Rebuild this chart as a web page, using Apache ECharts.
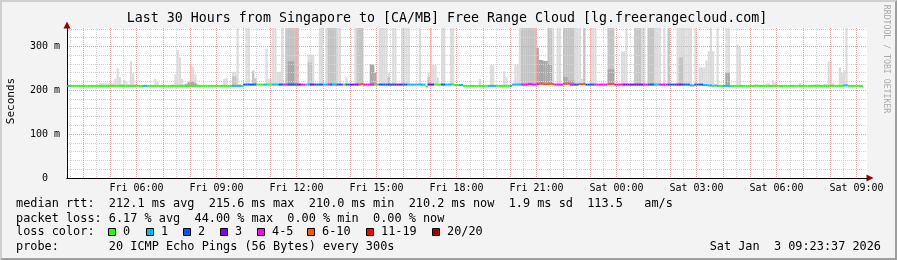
<!DOCTYPE html>
<html><head><meta charset="utf-8">
<script src="https://cdn.jsdelivr.net/npm/echarts@6/dist/echarts.min.js"></script>
<style>
html,body{margin:0;padding:0;background:#f3f3f3;}
#c{position:absolute;left:0;top:0;width:897px;height:260px;}
#frame{position:absolute;left:0;top:0;width:897px;height:260px;box-sizing:border-box;border-top:2px solid #cfcfcf;border-left:2px solid #cfcfcf;border-right:2px solid #9e9e9e;border-bottom:2px solid #9e9e9e;pointer-events:none;}
</style></head><body>
<div id="c"></div><div id="frame"></div>
<script>
const _ = null;
// time axis in hours since Fri 00:00
const X_MIN = 3 + 23/60 + 37/3600;   // Fri 03:23:37
const X_MAX = X_MIN + 30;            // Sat 09:23:37
const FIRST_BIN = 3 + 20/60;         // first 5-minute bin starts Fri 03:20
const STEP = 5/60;                   // 300 s step
const Y_MAX = 342;
const xLabelHours = [6, 9, 12, 15, 18, 21, 24, 27, 30, 33];
const yLabelValues = [0, 100, 200, 300];
const lossLegend = ['0', '1', '2', '3', '4-5', '6-10', '11-19', '20/20'];
const lossColors = ['#26ff00', '#00b8ff', '#0059ff', '#7e00ff', '#ff00ff', '#ff5500', '#ff0000', '#a10000'];

// median rtt (ms), one value per 5-minute bin
const median = [
210,210,210,210,210,210,210,210,210,210,210,210,
210,210,210,210,210,210,210,210,210,210,210,210,
210,210,210,210,210,210,210,210,210,210,210,210,
210,210,210,210,210,210,210,210,210,210,210,210,
210,210,210,210,210,210,210,210,210,210,210,210,
210,210,210,210,210,210,210,210,210,210,210,210,
210,210,210,210,210,210,210,210,213,213,213,213,
213,213,213,213,213,213,213,213,213,213,213,213,
213,213,213,213,213,213,213,213,213,213,213,213,
213,213,213,213,213,213,213,213,213,213,213,213,
213,213,213,213,213,213,213,213,213,213,213,213,
213,214,213,213,213,213,213,213,213,213,213,213,
213,213,213,213,213,213,213,213,213,213,213,213,
213,213,213,213,213,213,209,213,213,213,213,213,
213,213,213,213,213,213,213,212,212,212,212,210,
210,210,210,210,210,210,210,210,210,210,210,210,
210,210,210,210,210,210,210,210,210,213,213,213,
213,213,213,213,214,214,213,213,214,215,215,214,
214,214,215,214,213,213,213,213,215,215,215,213,
213,213,213,214,214,214,213,213,213,213,213,213,
213,213,213,213,214,214,214,213,213,213,213,213,
213,213,213,213,213,213,213,213,213,213,213,213,
213,213,213,213,213,213,213,213,213,213,213,213,
213,213,213,213,213,211,211,213,213,213,213,212,
212,211,211,210,211,210,210,210,210,210,210,210,
210,210,210,210,210,210,210,210,210,210,210,210,
210,210,210,210,210,210,210,210,210,210,210,210,
210,210,210,210,210,210,210,210,210,210,210,210,
210,210,210,210,210,210,210,210,210,210,210,210,
210,210,211,211,210,210,210,210,210,210,210
];
// lost pings out of 20, per bin
const loss = [
1,1,0,0,0,0,0,0,0,0,0,0,
0,0,0,0,0,0,0,0,0,0,0,0,
0,0,0,0,0,0,0,0,0,0,0,1,
1,0,0,0,0,0,0,0,0,0,0,0,
0,0,0,0,0,0,0,0,0,0,0,0,
0,0,0,0,0,0,0,0,0,0,0,0,
0,0,0,1,1,1,1,0,2,2,2,2,
2,2,0,0,0,1,1,0,0,1,1,1,
2,2,4,5,2,2,2,2,3,3,4,5,
1,1,3,3,2,2,2,2,1,1,4,2,
1,1,2,2,4,0,2,2,3,3,3,3,
7,6,4,5,4,4,5,0,1,2,2,2,
2,3,2,2,3,3,3,2,2,2,1,1,
1,1,1,1,1,1,0,3,3,3,0,0,
0,2,2,1,1,1,0,0,0,1,1,0,
0,0,0,0,0,0,0,0,0,0,1,1,
1,1,0,0,0,0,0,0,1,1,1,1,
1,4,5,4,4,5,4,4,5,7,8,7,
7,6,7,6,4,5,4,4,8,9,7,4,
5,2,2,6,7,6,2,2,2,2,4,5,
4,4,5,4,7,6,7,4,5,4,4,3,
3,3,3,3,3,3,3,3,4,5,2,2,
2,1,1,4,4,5,4,2,2,2,3,3,
3,2,2,2,2,1,1,2,2,2,2,1,
1,1,1,0,1,1,0,0,1,1,1,0,
0,0,0,0,0,0,0,0,0,0,0,0,
0,0,0,0,0,0,0,0,0,0,0,0,
0,0,0,0,0,0,0,0,0,0,0,0,
0,0,0,0,0,0,0,0,0,0,0,0,
0,0,1,1,0,0,0,0,0,0,0
];
// smoke: highest ping (light), upper ping band (medium), lower band (dark), ms
const smokeMax = [
_,_,_,_,_,_,_,_,_,_,_,_,
_,_,_,216,216,216,216,216,216,216,226,251,
230,215,224,218,214,266,240,214,_,_,_,_,
_,_,_,_,226,219,_,_,_,_,_,_,
214,236,292,275,226,214,216,222,258,253,236,214,
_,_,_,_,_,_,_,_,_,_,_,226,
228,_,_,242,242,350,214,_,_,350,350,214,
246,229,_,_,_,_,295,226,226,350,350,242,
242,350,216,350,350,350,350,350,350,216,_,_,
_,281,281,281,216,_,350,350,_,350,350,350,
350,350,350,350,214,_,230,_,_,_,350,350,
350,350,_,_,_,259,259,240,_,350,350,350,
350,240,_,350,350,_,_,350,350,350,350,_,
_,_,_,350,_,_,_,240,350,258,258,230,
_,350,350,_,_,350,350,_,_,_,_,_,
_,_,_,_,_,_,226,_,_,_,_,257,
257,_,_,_,_,243,230,_,_,_,259,259,
350,350,350,350,350,350,350,350,297,269,269,267,
267,350,350,350,_,350,350,_,350,350,350,350,
350,350,350,350,226,350,_,_,350,350,350,_,
_,_,_,_,350,350,350,_,_,_,289,289,
350,_,_,_,350,350,350,350,350,_,350,350,
350,350,350,350,_,350,_,350,_,_,_,350,
350,350,350,350,350,350,_,350,_,252,252,252,
268,289,350,289,_,350,_,_,_,350,350,_,
_,_,304,300,_,_,_,_,_,_,214,214,
_,_,_,216,216,_,223,218,_,_,_,_,
_,_,_,_,_,_,216,_,_,_,_,_,
_,214,214,_,_,215,215,266,266,216,_,_,
252,240,244,350,_,_,_,_,_,_,_
];
const smokeMid = [
_,_,_,_,_,_,_,_,_,_,_,_,
_,_,_,_,_,_,_,_,_,_,_,_,
_,_,_,_,_,_,_,_,_,_,_,_,
_,_,_,_,_,_,_,_,_,_,_,_,
_,_,_,_,_,_,_,_,_,_,_,_,
_,_,_,_,_,_,_,_,_,_,_,_,
_,_,_,232,232,_,_,_,_,_,_,_,
243,226,_,_,_,_,_,_,_,_,_,_,
_,_,_,350,350,350,350,350,350,_,_,_,
_,264,264,_,_,_,_,_,_,_,350,350,
350,350,_,_,_,_,_,_,_,_,_,350,
350,350,_,_,_,_,_,_,_,_,_,_,
_,230,_,_,_,_,_,_,_,_,_,_,
_,_,_,_,_,_,_,230,_,_,_,_,
_,_,_,_,_,_,_,_,_,_,_,_,
_,_,_,_,_,_,_,_,_,_,_,_,
_,_,_,_,_,_,_,_,_,_,_,_,
_,350,350,350,350,350,350,350,_,_,_,_,
_,350,350,_,_,_,_,_,350,350,350,350,
350,_,_,_,_,350,_,_,_,_,_,_,
_,_,_,_,350,350,350,_,_,_,_,_,
_,_,_,_,350,350,350,_,_,_,350,350,
350,_,_,_,_,_,_,350,_,_,_,_,
275,275,_,_,_,_,_,_,_,_,_,_,
_,_,_,_,_,_,_,_,_,_,_,_,
_,_,_,_,_,_,_,_,_,_,_,_,
_,_,_,_,_,_,_,_,_,_,_,_,
_,_,_,_,_,_,_,_,_,_,_,_,
_,_,_,_,_,_,_,_,_,_,_,_,
_,_,_,_,_,_,_,_,_,_,_
];
const smokeDark = [
_,_,_,_,_,_,_,_,_,_,_,_,
_,_,_,_,_,_,_,_,_,_,_,_,
_,_,_,_,_,_,_,_,_,_,_,_,
_,_,_,_,_,_,_,_,_,_,_,_,
_,_,_,_,_,_,214,218,219,220,216,_,
_,_,_,_,_,_,_,_,_,_,_,_,
_,_,_,_,_,_,_,_,_,_,_,_,
_,_,_,_,_,_,_,_,_,_,_,_,
_,_,_,_,266,266,266,_,_,_,_,_,
_,_,_,_,_,_,_,_,_,_,_,_,
_,_,_,_,_,_,_,_,_,_,_,_,
_,_,_,_,_,259,259,240,_,_,_,_,
_,_,_,_,_,_,_,_,_,_,_,_,
_,_,_,_,_,_,_,_,_,_,_,_,
_,_,_,_,_,_,_,_,_,_,_,_,
_,_,_,_,_,_,_,_,_,_,_,_,
_,_,_,_,_,_,_,_,_,_,_,_,
_,_,_,_,_,_,_,_,297,269,269,267,
267,260,260,_,_,_,_,_,230,230,222,222,
222,_,_,_,_,_,_,_,_,_,_,_,
_,_,_,_,248,248,248,_,_,_,_,_,
_,_,_,_,_,_,_,_,_,_,_,_,
_,_,_,_,_,_,_,_,_,_,_,_,
_,_,_,_,_,_,_,_,_,_,_,_,
_,_,_,_,_,_,_,_,_,240,240,_,
_,_,_,_,_,_,_,_,_,_,_,_,
_,_,_,_,_,_,_,_,_,_,_,_,
_,_,_,_,_,_,_,_,_,_,_,_,
_,_,_,_,_,_,_,_,_,_,_,_,
_,_,_,_,_,_,_,_,_,_,_
];

const FONT = '"DejaVu Sans Mono", monospace';
function binStart(i){ return FIRST_BIN + i*STEP; }
function lossColor(n){
  if (n <= 0) return lossColors[0];
  if (n === 1) return lossColors[1];
  if (n === 2) return lossColors[2];
  if (n === 3) return lossColors[3];
  if (n <= 5) return lossColors[4];
  if (n <= 10) return lossColors[5];
  if (n <= 19) return lossColors[6];
  return lossColors[7];
}
function smokeData(arr){
  const out = [];
  arr.forEach((v, i) => { if (v != null) out.push([binStart(i), binStart(i+1), median[i]-1.5, v]); });
  return out;
}
const medData = median.map((m, i) => [binStart(i), binStart(i+1), m, loss[i]]);

function clip(r, cs){
  return echarts.graphic.clipRectByRect(r, {x: cs.x, y: cs.y, width: cs.width, height: cs.height});
}
function smokeItem(params, api){
  const a = api.coord([api.value(0), api.value(3)]);
  const b = api.coord([api.value(1), api.value(2)]);
  const shape = clip({x: a[0], y: a[1], width: b[0]-a[0], height: b[1]-a[1]}, params.coordSys);
  return shape && {type: 'rect', shape, style: {fill: api.visual('color')}};
}
function medItem(params, api){
  const a = api.coord([api.value(0), api.value(2)]);
  const b = api.coord([api.value(1), api.value(2)]);
  const shape = clip({x: a[0], y: a[1]-1, width: b[0]-a[0], height: 2}, params.coordSys);
  return shape && {type: 'rect', shape, style: {fill: lossColor(api.value(3))}};
}

const minorX = [], majorX = [], minorY = [], majorY = [100, 200, 300];
for (let h = 3.5; h <= 33.01; h += 0.5) minorX.push(h);
for (let h = 4; h <= 33; h += 1) majorX.push(h);
for (let v = 20; v <= 340; v += 20) minorY.push(v);

function xFmt(v){
  const day = v < 24 ? 'Fri' : 'Sat';
  const h = Math.round(v) % 24;
  return day + ' ' + (h < 10 ? '0' : '') + h + ':00';
}

const legendBoxX = [108, 146, 183, 220, 257, 307, 366, 432];
const LF = '11.86px ' + FONT;
const graphics = [
  {type:'text', x:447, y:19, style:{text:'Last 30 Hours from Singapore to [CA/MB] Free Range Cloud [lg.freerangecloud.com]', font:'13.3px '+FONT, fill:'#000', textAlign:'center', textVerticalAlign:'middle'}},
  {type:'text', x:11, y:101, rotation:Math.PI/2, style:{text:'Seconds', font:'11px '+FONT, fill:'#000', textAlign:'center', textVerticalAlign:'middle'}},
  {type:'text', x:886, y:59, rotation:-Math.PI/2, style:{text:'RRDTOOL / TOBI OETIKER', font:'8.2px '+FONT, fill:'#aaaaaa', textAlign:'center', textVerticalAlign:'middle'}},
  {type:'text', x:16, y:204, style:{text:'median rtt:  212.1 ms avg  215.6 ms max  210.0 ms min  210.2 ms now  1.9 ms sd  113.5   am/s', font:LF, fill:'#000', textVerticalAlign:'middle'}},
  {type:'text', x:16, y:218.5, style:{text:'packet loss: 6.17 % avg  44.00 % max  0.00 % min  0.00 % now', font:LF, fill:'#000', textVerticalAlign:'middle'}},
  {type:'text', x:16, y:232, style:{text:'loss color:', font:LF, fill:'#000', textVerticalAlign:'middle'}},
  {type:'text', x:16, y:247, style:{text:'probe:       20 ICMP Echo Pings (56 Bytes) every 300s', font:LF, fill:'#000', textVerticalAlign:'middle'}},
  {type:'text', x:881, y:247, style:{text:'Sat Jan  3 09:23:37 2026', font:LF, fill:'#000', textAlign:'right', textVerticalAlign:'middle'}}
];
lossLegend.forEach((lab, k) => {
  graphics.push({type:'rect', shape:{x:legendBoxX[k]+0.5, y:228.5, width:7, height:7}, style:{fill:lossColors[k], stroke:'#000', lineWidth:1}});
  graphics.push({type:'text', x:legendBoxX[k]+15, y:232, style:{text:lab, font:LF, fill:'#000', textVerticalAlign:'middle'}});
});

const chart = echarts.init(document.getElementById('c'), null, {renderer:'canvas'});
chart.setOption({
  animation: false,
  backgroundColor: '#f3f3f3',
  grid: {left:67, right:30, top:28, bottom:82, show:true, backgroundColor:'#ffffff', borderWidth:0},
  xAxis: [
    {type:'value', min:X_MIN, max:X_MAX, position:'bottom', z:4,
     axisLine:{show:true, lineStyle:{color:'#990000', width:1}, symbol:['none','triangle'], symbolSize:[7,7], symbolOffset:[0,3]},
     axisTick:{show:false, customValues:minorX}, axisLabel:{show:false},
     splitLine:{show:true, lineStyle:{color:'#d4d4d4', width:1, type:[1,1]}}},
    {type:'value', min:X_MIN, max:X_MAX, position:'bottom', z:5,
     axisLine:{show:true, lineStyle:{color:'#000000', width:1}},
     axisTick:{show:false, customValues:majorX},
     axisLabel:{customValues:xLabelHours, formatter:xFmt, fontFamily:FONT, fontSize:10, color:'#000', margin:5},
     splitLine:{show:true, lineStyle:{color:'#f0a0a0', width:1, type:[1,1]}}}
  ],
  yAxis: [
    {type:'value', min:0, max:Y_MAX, position:'left', z:4,
     axisLine:{show:true, lineStyle:{color:'#990000', width:1}, symbol:['none','triangle'], symbolSize:[7,7], symbolOffset:[0,3]},
     axisTick:{show:false, customValues:minorY}, axisLabel:{show:false},
     splitLine:{show:true, lineStyle:{color:'#d4d4d4', width:1, type:[1,1]}}},
    {type:'value', min:0, max:Y_MAX, position:'left', z:5,
     axisLine:{show:true, lineStyle:{color:'#000000', width:1}},
     axisTick:{show:false, customValues:majorY},
     axisLabel:{customValues:yLabelValues, formatter:v => v === 0 ? '0' : v + ' m', fontFamily:FONT, fontSize:10, color:'#000', align:'center', margin:22},
     splitLine:{show:true, lineStyle:{color:'#f0a0a0', width:1, type:[1,1]}}}
  ],
  series: [
    {type:'custom', name:'smokeMax', xAxisIndex:0, yAxisIndex:0, z:1, renderItem:smokeItem, itemStyle:{color:'#dcdcdc'}, data:smokeData(smokeMax), silent:true},
    {type:'custom', name:'smokeMid', xAxisIndex:0, yAxisIndex:0, z:1, renderItem:smokeItem, itemStyle:{color:'#c4c4c4'}, data:smokeData(smokeMid), silent:true},
    {type:'custom', name:'smokeDark', xAxisIndex:0, yAxisIndex:0, z:1, renderItem:smokeItem, itemStyle:{color:'#a8a8a8'}, data:smokeData(smokeDark), silent:true},
    {type:'custom', name:'median', xAxisIndex:0, yAxisIndex:0, z:10, renderItem:medItem, data:medData, silent:true}
  ],
  graphic: {elements: graphics}
});
</script></body></html>
